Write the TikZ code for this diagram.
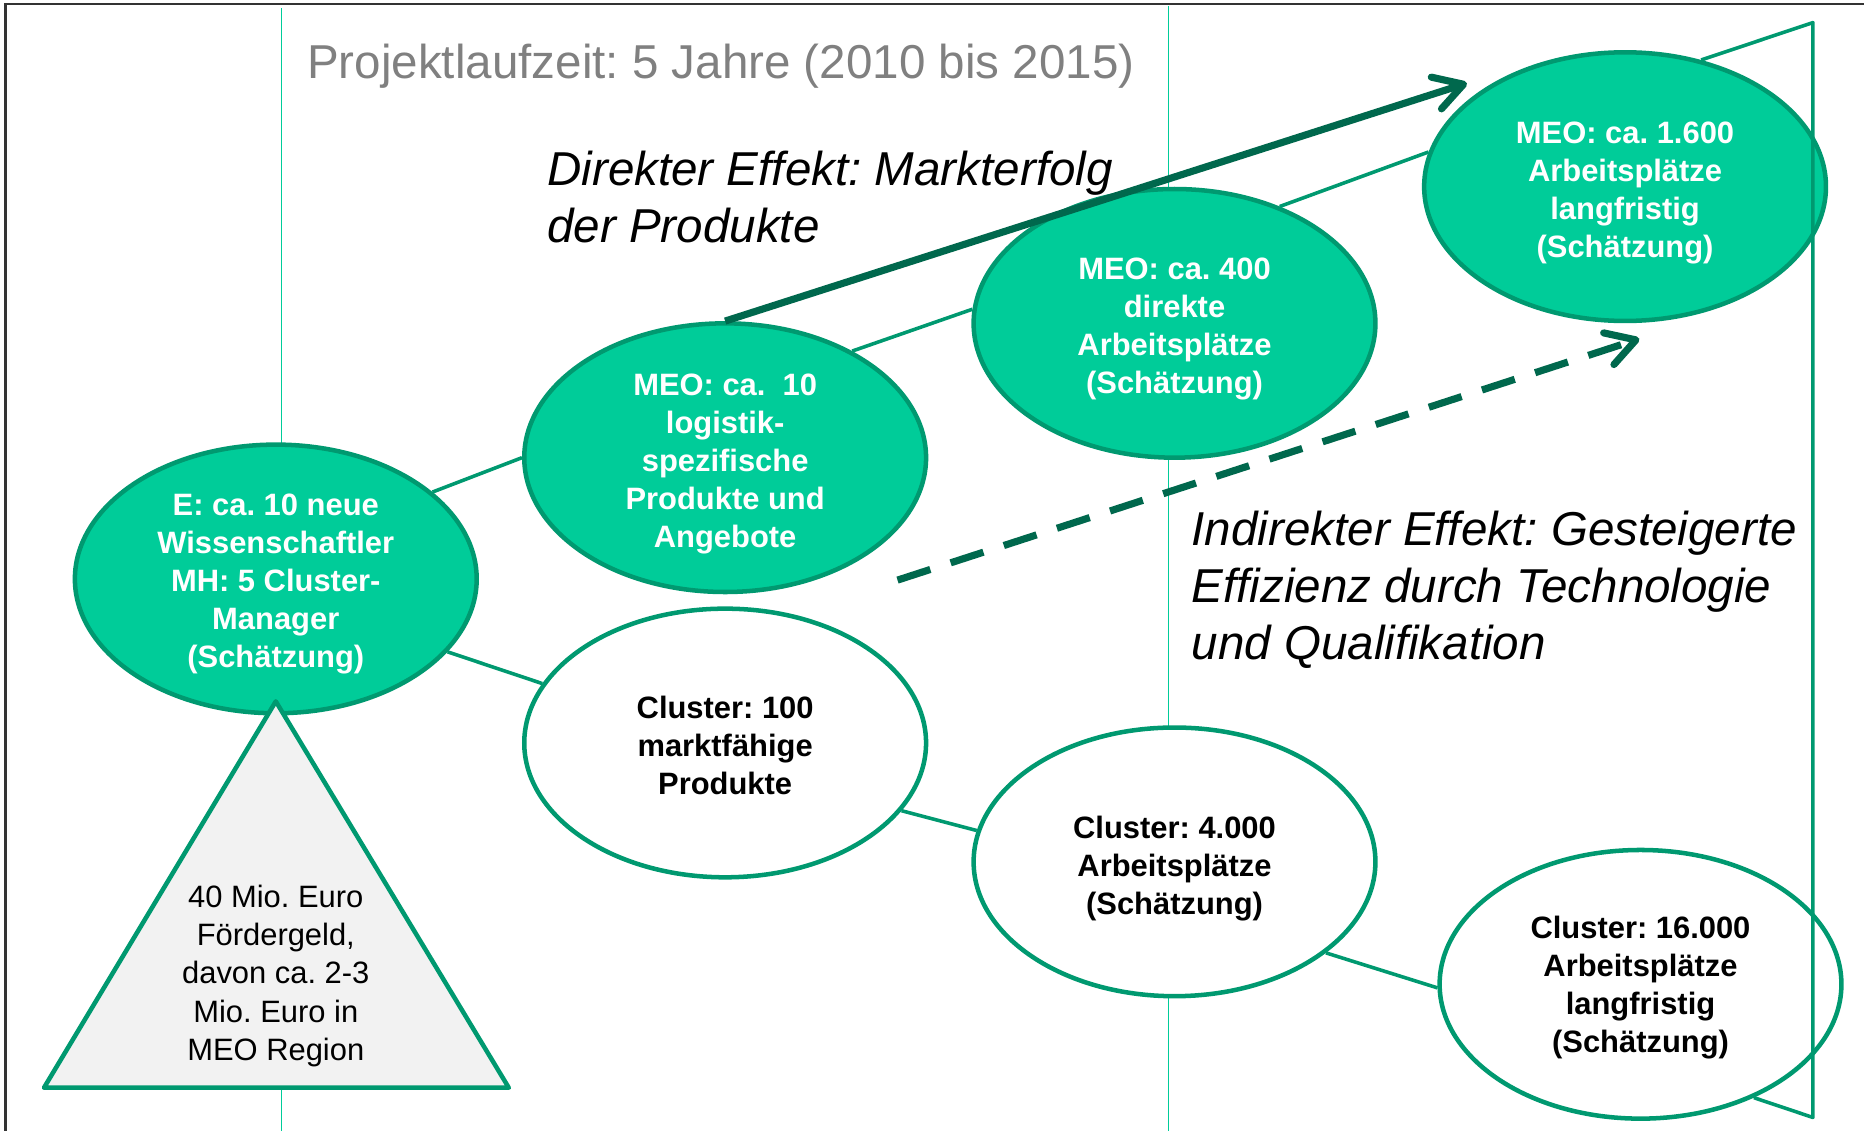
\documentclass[tikz,border=0pt]{standalone}
\usepackage{fontspec}
\setmainfont{Liberation Sans}
\usetikzlibrary{arrows.meta,shapes.geometric}
\definecolor{gfill}{RGB}{0,204,153}
\definecolor{gline}{RGB}{0,153,112}
\definecolor{gdark}{RGB}{0,104,77}
\definecolor{gthin}{RGB}{0,204,153}
\definecolor{trifill}{RGB}{242,242,242}
\definecolor{titlegray}{RGB}{128,128,128}
\frenchspacing
\begin{document}
\begin{tikzpicture}[x=0.5pt,y=-0.5pt,
  ell/.style={ellipse, draw=gline, line width=1.9pt, minimum width=169pt, minimum height=113pt, inner sep=0pt},
  meo/.style={ell, fill=gfill},
  clu/.style={ell, fill=white},
  etext/.style={align=center, inner sep=0pt, font=\fontsize{13}{16}\selectfont\bfseries},
  wtext/.style={etext, text=white},
  btext/.style={etext, text=black},
  conn/.style={draw=gline, line width=1.5pt},
  vline/.style={draw=gthin, line width=0.6pt},
  effect/.style={draw=gdark, line width=3pt, -{Straight Barb[length=12pt,width=14pt,round]}},
  bigtext/.style={font=\fontsize{20}{24}\selectfont\itshape, align=left, anchor=west, inner sep=0pt}
]
\useasboundingbox (0,0) rectangle (1568,951);
% frame
\draw[line width=1pt, black!80] (4.5,951) -- (4.5,3.5) -- (1568,3.5);
% thin vertical lines
\draw[vline] (237,7) -- (237,951);
\draw[vline] (983,5) -- (983,951);

% ellipses
\node[meo] (E) at (232,487) {};
\node[meo] (M10) at (610,385) {};
\node[meo] (M400) at (988,272) {};
\node[meo] (M1600) at (1367,157) {};
\node[clu] (C100) at (610,625) {};
\node[clu] (C4000) at (988,725) {};
\node[clu] (C16000) at (1380,828) {};
% ellipse texts
\node[wtext] (Et) at (232,491) {E: ca. 10 neue\\Wissenschaftler\\MH: 5 Cluster-\\Manager\\(Schätzung)};
\node[wtext] (M10t) at (610,390) {MEO: ca.\ \ 10\\logistik-\\spezifische\\Produkte und\\Angebote};
\node[wtext] (M400t) at (988,277) {MEO: ca. 400\\direkte\\Arbeitsplätze\\(Schätzung)};
\node[wtext] (M1600t) at (1367,162) {MEO: ca. 1.600\\Arbeitsplätze\\langfristig\\(Schätzung)};
\node[btext] (C100t) at (610,627) {Cluster: 100\\marktfähige\\Produkte};
\node[btext] (C4000t) at (988,731) {Cluster: 4.000\\Arbeitsplätze\\(Schätzung)};
\node[btext] (C16000t) at (1380,831) {Cluster: 16.000\\Arbeitsplätze\\langfristig\\(Schätzung)};

% connectors
\draw[conn] (E.29) -- (M10.180);
\draw[conn] (M10.40) -- (M400.176);
\draw[conn] (M400.48) -- (M1600.170);
\draw[conn] (E.-23) -- (C100.162);
\draw[conn] (C100.-21) -- (C4000.171);
\draw[conn] (C4000.-31) -- (C16000.181);
\coordinate (cTop) at (1525,19);
\coordinate (cBot) at (1525,940);
\draw[conn, line join=round] (M1600.59) -- (cTop) -- (cBot) -- (C16000.-45);

% funding triangle
\coordinate (tA) at (232,590);
\coordinate (tL) at (37,915);
\coordinate (tR) at (428,915);
\draw[draw=gline, fill=trifill, line width=1.9pt, line join=round] (tA) -- (tL) -- (tR) -- cycle;
\node[align=center, font=\fontsize{13}{16}\selectfont, inner sep=0pt] (fund) at (232,821)
  {40 Mio. Euro\\Fördergeld,\\davon ca. 2-3\\Mio. Euro in\\MEO Region};

% texts
\node[anchor=west, text=titlegray, font=\fontsize{20}{24}\selectfont, inner sep=0pt] (title) at (258,56)
  {Projektlaufzeit: 5 Jahre (2010 bis 2015)};
\node[bigtext] (direct) at (460,166) {Direkter Effekt: Markterfolg\\der Produkte};
\node[bigtext] (indirect) at (1002,496) {Indirekter Effekt: Gesteigerte\\Effizienz durch Technologie\\und Qualifikation};

% effect arrows
\coordinate (dirTip) at (1234,70);
\draw[effect] (M10.north) -- (dirTip);
\coordinate (indStart) at (755,488);
\coordinate (indTip) at (1379,285);
\draw[effect, dash pattern=on 14.5pt off 9pt] (indStart) -- (indTip);
\end{tikzpicture}
\end{document}
